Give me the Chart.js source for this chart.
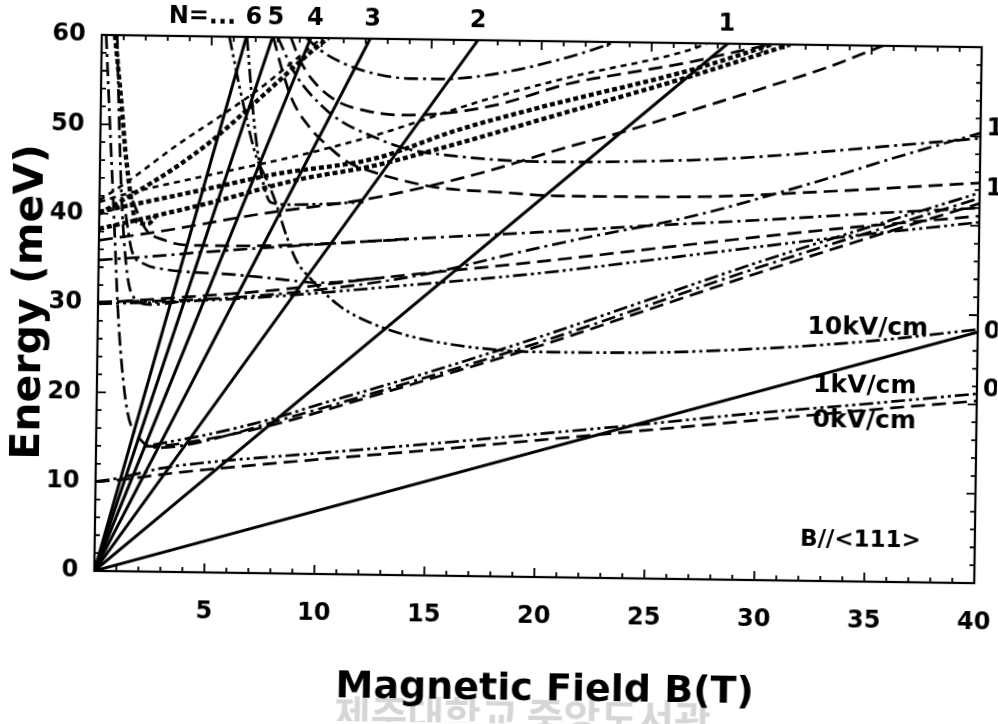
<!DOCTYPE html>
<html><head><meta charset="utf-8">
<script src="https://cdn.jsdelivr.net/npm/chart.js@4.4.1/dist/chart.umd.min.js"></script>
<style>
html,body{margin:0;padding:0;background:#fff;overflow:hidden;width:998px;height:724px}
#wrap{position:absolute;left:0;top:0;width:998px;height:724px;transform:rotate(0.8deg);transform-origin:535px 310px}
canvas{display:block}
</style></head><body>
<div id="wrap"><canvas id="c" width="998" height="724"></canvas></div>
<script>
// ---------- data (B in T, E in meV) ----------
const xTickVals = [5,10,15,20,25,30,35,40];
const yTickVals = [0,10,20,30,40,50,60];
// straight Landau lines from the origin: end points [B,E]
const landauEnds = [[40,28.1],[28.45,60],[17.1,60],[12.2,60],[9.5,60],[7.76,60],[6.57,60]];
const landauLabels = ['1','2','3','4','5','6'];
const landauLabelB = [28.4,17.1,12.3,9.7,7.9,6.9];

const L1 = [[0,10.0],[1,10.2],[3,10.9],[5,11.5],[10,12.8],[15,14.0],[20,15.3],[25,16.6],[30,17.9],[35,19.2],[40,20.4]];
const L2 = [[0,10.0],[1,10.4],[3,11.6],[5,12.3],[10,13.5],[15,14.7],[20,16.0],[25,17.3],[30,18.7],[35,19.9],[40,21.2]];
const R1 = [[2.6,14.2],[3,14.4],[5,15.4],[8,17.3],[10,18.9],[12.4,20.7],[15,22.7],[20,26.8],[25,31.2],[30,35.6],[35,39.7],[40,43.7]];
const R2 = [[2.2,14.0],[3,14.1],[5,14.9],[8,16.6],[12.4,19.9],[15,21.9],[20,25.8],[25,30.1],[30,34.4],[35,38.5],[40,42.5]];
const S1 = [[0.2,60],[0.45,49],[0.7,38.3],[0.9,29.5],[1.1,23.5],[1.4,17.9],[2.0,14.8],[2.9,13.9],[4,14.2],[6,15.4],[8,16.9],[12.4,20.2],[20,26.2],[30,35.0],[40,43.1]];
const Z1 = [[0,30.0],[3,30.6],[8,31.7],[13,33.3],[20,35.3],[27,37.5],[33,39.3],[40,41.1]];
const Z2 = [[0,29.9],[3,30.2],[8,31.0],[13,32.2],[20,34.0],[27,36.3],[33,38.3],[40,40.4]];
const Z3 = [[0,30.1],[5,30.6],[10,31.8],[15,33.8],[18.9,36.2],[22,38.0],[26.9,40.6],[32.6,44.7],[36,47.4],[40,50.4]];
const S3 = [[0.7,60],[0.85,50],[1.0,42],[1.2,35.5],[1.4,32],[1.8,30.3],[2.3,29.9],[3,30.0],[4,30.4]];
const Y1 = [[0,34.8],[2,35.2],[5,35.9],[10,36.9],[15,37.8],[20,38.6],[25,39.5],[30,40.3],[35,41.2],[40,42.0]];
const Y2 = [[1.5,41.5],[2.1,38.4],[3,37.1],[4.1,36.6],[6,36.6],[8,36.7],[11,37.1],[14,37.6]];
const A2 = [[1.2,40],[1.5,35.9],[2.1,34.4],[2.9,33.9],[4.1,33.6],[6,33.4],[8,33.0],[10,32.6],[13,33.3]];
const T1 = [[0,40.2],[2.5,41.6],[5,43.0],[8,44.7],[12.5,46.6],[16.1,49.8],[20,52.6],[26.8,57.0],[30.5,60]];
const T2 = [[0,38.3],[2.5,39.8],[5.2,41.5],[9,44.1],[12.3,45.7],[16.1,48.3],[20,51.2],[26.8,56.3],[31.3,60]];
const W1 = [[0,37.0],[3,38.2],[7.3,40.2],[12.5,42.2],[17.4,45.2],[21,48.0],[23.8,50.0],[26.9,52.5],[30,55.0],[33,57.5],[35.5,60]];
const D4 = [[0,41.3],[1.3,42.3],[5,44.5],[9,46.8],[12.5,49.2],[17.3,53.2],[21.3,56.0],[26.8,59.3],[27.5,60]];
const D1 = [[0,41.5],[1.2,43.5],[3.5,47.8],[5.5,51.2],[7.4,54.6],[8.7,57.3],[10,60]];
const D2 = [[0,40.0],[1.3,41.9],[3.5,45.4],[5.0,48.2],[7.2,53.1],[9.6,58.6],[10.3,60]];
const S2 = [[0.6,60],[0.9,53.3],[1.2,45.9],[1.7,39.2],[2.2,38.9],[2.6,39.9]];
const CA = [[5.8,60],[6.5,52.2],[7.1,46.6],[7.6,44.0],[8.0,41.6],[8.55,37.6],[9.0,35.0],[9.7,32.9],[11.0,30.0],[12.5,28.1],[14.3,26.7],[16.4,25.8],[18,25.4],[20,25.2],[25,25.3],[30,25.9],[35,26.9],[40,28.4]];
const CB = [[9.3,60],[9.9,58.7],[11.1,57.1],[12.6,56.0],[14.1,55.6],[15.4,55.6],[17,55.9],[19,56.8],[21.3,58.3],[23,59.7],[23.3,60]];
const CG = [[8.6,60],[9.0,57.6],[9.6,55.3],[10.7,53.0],[12.1,51.9],[13.6,51.5],[15.4,51.7],[18,52.8],[21.3,55.3],[24,56.6],[26.8,57.9],[29,59.2],[30.5,60]];
const CD = [[8.0,60],[8.8,56],[10,52.5],[11,50.6],[12.25,49.2],[13.8,47.8],[16.1,47.0],[19.9,46.5],[26.8,46.9],[30,47.4],[35.5,48.7],[40,49.8]];
const CE = [[7.8,60],[8.2,56.5],[8.7,53.0],[9.6,49.7],[10.4,47.8],[11.3,46.1],[12.4,45.1],[13.9,44.1],[15.5,43.4],[18.3,43.0],[20.8,42.7],[26.9,42.8],[33,43.6],[40,44.8]];
const CZ = [[6.6,60],[7.0,50],[7.4,44],[7.8,41.5],[8.6,41.3],[10,41.4],[12,41.7]];

// text annotations [B, E, text]
const fieldLabels = [[35,28.4,'10kV/cm'],[34.9,21.9,'1kV/cm'],[34.9,18.0,'0kV/cm'],[34.8,4.6,'B//<111>']];
const rightLabels = [[50.8,'1'],[44.1,'1'],[28.1,'0'],[21.6,'0']];

// ---------- styles ----------
const STY = {
  solid:      {dash:[], w:3},
  longDash:   {dash:[14,7], w:2.7},
  dashDot:    {dash:[14,5,3,5], w:2.7},
  dashDotDot: {dash:[14,4,3,4,3,4], w:2.7},
  shortDash:  {dash:[6,5], w:2.6},
  thickDot:   {dash:[5,3], w:4.4}
};
const curveList = [
  [L1,'longDash'],[L2,'dashDotDot'],[R1,'dashDotDot'],[R2,'longDash'],[S1,'dashDot'],
  [Z1,'longDash'],[Z2,'dashDotDot'],[Z3,'dashDot'],[S3,'dashDot'],[Y1,'dashDot'],
  [Y2,'longDash'],[A2,'dashDot'],[T1,'thickDot'],[T2,'thickDot'],[W1,'longDash'],
  [D4,'shortDash'],[D1,'shortDash'],[D2,'thickDot'],[S2,'thickDot'],[CA,'dashDotDot'],
  [CB,'dashDot'],[CG,'longDash'],[CD,'dashDot'],[CE,'longDash'],[CZ,'dashDotDot']
];

const datasets = [];
landauEnds.forEach(e => {
  datasets.push({data:[{x:0,y:0},{x:e[0],y:e[1]}], borderColor:'#000', borderWidth:STY.solid.w, borderDash:[], pointRadius:0, showLine:true, fill:false});
});
curveList.forEach(([arr,st]) => {
  datasets.push({data:arr.map(p=>({x:p[0],y:p[1]})), borderColor:'#000', borderWidth:STY[st].w, borderDash:STY[st].dash,
    pointRadius:0, showLine:true, fill:false, cubicInterpolationMode:'monotone'});
});

const FONT = 'DejaVu Sans';
const deco = {
  id:'deco',
  beforeDraw(chart){
    const c = chart.ctx;
    c.save();
    c.fillStyle = '#fff'; c.fillRect(0,0,chart.width,chart.height);
    // faint library watermark
    c.fillStyle = '#d6d6d6';
    c.font = 'bold 40px "Noto Sans CJK KR"';
    c.textAlign = 'center'; c.textBaseline = 'top';
    c.fillText('제주대학교 중앙도서관', 528, 697);
    c.restore();
  },
  afterDraw(chart){
    const c = chart.ctx, a = chart.chartArea, xs = chart.scales.x, ys = chart.scales.y;
    c.save();
    c.strokeStyle = '#000'; c.lineWidth = 2.2;
    c.strokeRect(a.left, a.top, a.right-a.left, a.bottom-a.top);
    c.lineWidth = 1.8;
    c.beginPath();
    for (let b=1; b<40; b++){
      const L = (b%5===0)?9:5, px = xs.getPixelForValue(b);
      c.moveTo(px,a.bottom); c.lineTo(px,a.bottom-L);
      c.moveTo(px,a.top); c.lineTo(px,a.top+L);
    }
    for (let e=2; e<60; e+=2){
      const L = (e%10===0)?9:5, py = ys.getPixelForValue(e);
      c.moveTo(a.left,py); c.lineTo(a.left+L,py);
      c.moveTo(a.right,py); c.lineTo(a.right-L,py);
    }
    c.stroke();
    c.fillStyle = '#000';
    // tick labels
    c.font = 'bold 24px "'+FONT+'"';
    c.textAlign = 'center'; c.textBaseline = 'middle';
    xTickVals.forEach(v=>{ c.fillText(String(v), xs.getPixelForValue(v), a.bottom+40); });
    c.textAlign = 'right';
    yTickVals.forEach(v=>{ c.fillText(String(v), a.left-16, ys.getPixelForValue(v)); });
    // N labels along the top
    c.font = 'bold 24px "'+FONT+'"';
    c.textAlign = 'center';
    landauLabels.forEach((t,i)=>{
      c.fillText(t, xs.getPixelForValue(landauLabelB[i]), a.top-19);
    });
    c.textAlign = 'right';
    c.fillText('N=...', xs.getPixelForValue(6.1), a.top-19);
    // right-edge labels
    c.textAlign = 'left';
    rightLabels.forEach(r=>{ c.fillText(r[1], a.right+6, ys.getPixelForValue(r[0])); });
    // field labels
    c.textAlign = 'center';
    fieldLabels.forEach((f,i)=>{
      c.font = (i<3 ? 'bold 25px "' : 'bold 23px "')+FONT+'"';
      c.fillText(f[2], xs.getPixelForValue(f[0]), ys.getPixelForValue(f[1]));
    });
    // axis titles
    c.font = 'bold 38px "'+FONT+'"';
    c.fillText('Magnetic Field B(T)', 550, 690);
    c.translate(30, (a.top+a.bottom)/2);
    c.rotate(-Math.PI/2);
    c.font = 'bold 41px "'+FONT+'"';
    c.fillText('Energy (meV)', 0, 0);
    c.restore();
  }
};

new Chart(document.getElementById('c').getContext('2d'), {
  type:'scatter',
  data:{datasets},
  options:{
    responsive:false, animation:false, devicePixelRatio:1,
    layout:{padding:{left:0,right:20,top:41,bottom:0}},
    plugins:{legend:{display:false}, tooltip:{enabled:false}},
    elements:{line:{tension:0}},
    scales:{
      x:{type:'linear', min:0, max:40,
         grid:{display:false, drawTicks:false}, border:{display:false},
         afterFit:s=>{ s.height = 147; },
         afterBuildTicks:s=>{ s.ticks = xTickVals.map(v=>({value:v})); },
         ticks:{display:false}},
      y:{type:'linear', min:0, max:60,
         grid:{display:false, drawTicks:false}, border:{display:false},
         afterFit:s=>{ s.width = 98; },
         afterBuildTicks:s=>{ s.ticks = yTickVals.map(v=>({value:v})); },
         ticks:{display:false}}
    }
  },
  plugins:[deco]
});
</script></body></html>
